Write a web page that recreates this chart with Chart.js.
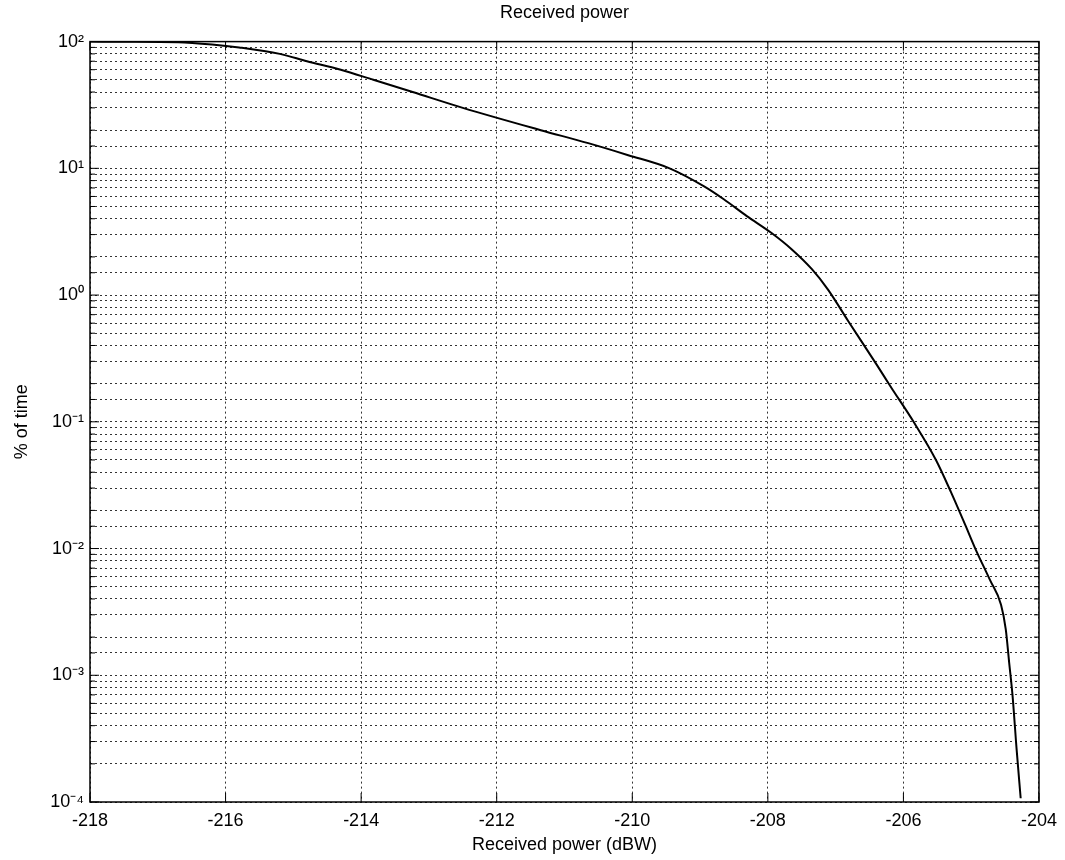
<!DOCTYPE html>
<html>
<head>
<meta charset="utf-8">
<script src="https://cdn.jsdelivr.net/npm/chart.js@4/dist/chart.umd.min.js"></script>
<style>
  html, body { margin: 0; padding: 0; background: #fff; }
  #wrap { width: 1065px; height: 860px; }
</style>
</head>
<body>
<div id="wrap"><canvas id="powerChart" width="1065" height="860"></canvas></div>
<script>
// received power (dBW) vs % of time
const powerDbw = [-218, -217.5, -216.7, -216.2, -215.8, -215.2, -214.8, -214.3, -213.82,
  -213.24, -212.5, -211.35, -210.65, -210.06, -209.45, -208.94, -208.65, -208.31, -207.95,
  -207.65, -207.35, -207.11, -206.82, -206.39, -206.19, -205.85, -205.52, -205.3, -205.08,
  -204.94, -204.72, -204.56, -204.49, -204.44, -204.39, -204.33, -204.27];
const percentTime = [100, 99.8, 99, 95, 90, 80, 70, 60, 50,
  40, 30, 20, 15.8, 12.7, 10, 7.2, 5.7, 4.2, 3.1,
  2.3, 1.6, 1.1, 0.63, 0.28, 0.19, 0.1, 0.05, 0.028, 0.015,
  0.01, 0.0056, 0.0036, 0.0023, 0.00126, 0.00069, 0.00026, 0.000107];

const xTicks = [-218, -216, -214, -212, -210, -208, -206, -204];
const supers = { "-": "\u207B", "0": "\u2070", "1": "\u00B9", "2": "\u00B2", "3": "\u00B3", "4": "\u2074" };

const points = powerDbw.map((p, i) => ({ x: p, y: percentTime[i] }));

function isDecade(v) {
  const e = Math.log10(v);
  return Math.abs(e - Math.round(e)) < 1e-6;
}

// matlab style box + inward tick marks
const boxPlugin = {
  id: "box",
  afterDraw(chart) {
    const { ctx, chartArea: a, scales } = chart;
    ctx.save();
    ctx.strokeStyle = "#000";
    ctx.lineWidth = 1.5;
    ctx.strokeRect(a.left, a.top, a.right - a.left, a.bottom - a.top);
    ctx.lineWidth = 1;
    ctx.beginPath();
    scales.y.ticks.forEach(t => {
      const py = scales.y.getPixelForValue(t.value);
      const len = isDecade(t.value) ? 9 : 5;
      ctx.moveTo(a.left, py); ctx.lineTo(a.left + len, py);
      ctx.moveTo(a.right, py); ctx.lineTo(a.right - len, py);
    });
    scales.x.ticks.forEach(t => {
      const px = scales.x.getPixelForValue(t.value);
      ctx.moveTo(px, a.bottom); ctx.lineTo(px, a.bottom - 9);
      ctx.moveTo(px, a.top); ctx.lineTo(px, a.top + 9);
    });
    ctx.stroke();
    ctx.restore();
  }
};

new Chart("powerChart", {
  type: "line",
  data: {
    datasets: [{
      label: "Received power",
      data: points,
      borderColor: "#000",
      borderWidth: 2,
      pointRadius: 0,
      fill: false,
      cubicInterpolationMode: "monotone"
    }]
  },
  options: {
    responsive: false,
    animation: false,
    layout: { padding: { left: 0, right: 17, top: 0, bottom: 0 } },
    plugins: {
      legend: { display: false },
      tooltip: { enabled: false },
      title: {
        display: true,
        text: "Received power",
        fullSize: false,
        color: "#000",
        font: { family: "Liberation Sans, Arial, sans-serif", size: 18, weight: "normal" },
        padding: { top: 2, bottom: 18 }
      }
    },
    scales: {
      x: {
        type: "linear",
        min: -218,
        max: -204,
        afterBuildTicks: s => { s.ticks = xTicks.map(v => ({ value: v })); },
        afterFit: s => { s.height = 58; },
        ticks: {
          color: "#000",
          padding: 8,
          font: { family: "Liberation Sans, Arial, sans-serif", size: 18 }
        },
        grid: { color: "#333", drawTicks: false },
        border: { display: false, dash: [2, 3] },
        title: {
          display: true,
          text: "Received power (dBW)",
          color: "#000",
          font: { family: "Liberation Sans, Arial, sans-serif", size: 18 },
          padding: { top: 3, bottom: 4 }
        }
      },
      y: {
        type: "logarithmic",
        min: 1e-4,
        max: 100,
        afterFit: s => { s.width = 90; },
        ticks: {
          autoSkip: false,
          color: "#000",
          padding: 6,
          font: { family: "Liberation Sans, Arial, sans-serif", size: 18 },
          callback: v => {
            if (!isDecade(v)) return "";
            const e = String(Math.round(Math.log10(v)));
            return "10" + e.split("").map(c => supers[c]).join("");
          }
        },
        grid: { color: "#333", drawTicks: false },
        border: { display: false, dash: [2, 3] },
        title: {
          display: true,
          text: "% of time",
          color: "#000",
          font: { family: "Liberation Sans, Arial, sans-serif", size: 18 },
          padding: { top: 11, bottom: 4 }
        }
      }
    }
  },
  plugins: [boxPlugin]
});
</script>
</body>
</html>
